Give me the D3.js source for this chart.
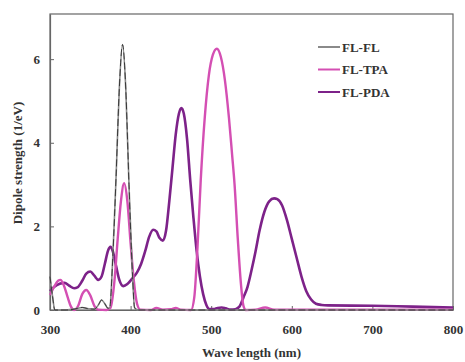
<!DOCTYPE html>
<html>
<head>
<meta charset="utf-8">
<script src="https://cdn.jsdelivr.net/npm/d3@7"></script>
<style>
  body { margin: 0; background: #fff; }
  text { font-family: "Liberation Serif", "Times New Roman", serif; font-weight: bold; fill: #333; }
</style>
</head>
<body>
<div id="chart"></div>
<script>
// Chart size
var width = 465;
var height = 362;
var margin = { top: 14, right: 12, bottom: 52, left: 50 };

// Data: wavelength (nm) and dipole strength (1/eV)
var flflWave = [300, 303, 306, 320, 330, 340, 348, 355, 360, 364, 368, 372, 374, 378, 382, 386, 390, 394, 398, 402, 405, 410, 800];
var flflValue = [0.8, 0.35, 0.0, 0.0, 0.02, 0.06, 0.03, 0.02, 0.12, 0.24, 0.15, 0.04, 0.05, 1.3, 3.2, 5.3, 6.35, 5.3, 3.0, 1.0, 0.05, 0.0, 0.0];

var fltpaWave = [300, 305, 310, 313, 317, 322, 326, 330, 335, 340, 345, 350, 355, 360, 370, 375, 380, 384, 388, 392, 396, 400, 404, 408, 412, 425, 432, 440, 450, 456, 462, 475, 479, 483, 487, 492, 497, 502, 507, 512, 517, 522, 526, 529, 533, 537, 540, 543, 555, 567, 578, 600, 800];
var fltpaValue = [0.36, 0.55, 0.7, 0.72, 0.6, 0.3, 0.08, 0.0, 0.1, 0.38, 0.48, 0.35, 0.1, 0.01, 0.0, 0.05, 0.7, 1.7, 2.6, 3.03, 2.6, 1.6, 0.7, 0.15, 0.01, 0.0, 0.05, 0.01, 0.02, 0.05, 0.01, 0.0, 0.3, 1.5, 3.1, 4.6, 5.6, 6.1, 6.25, 6.05, 5.5, 4.6, 3.7, 3.0, 1.7, 0.6, 0.1, 0.0, 0.01, 0.06, 0.01, 0.01, 0.01];

var flpdaWave = [300, 305, 312, 318, 324, 330, 334, 340, 345, 350, 355, 360, 364, 368, 372, 375, 378, 382, 386, 391, 396, 402, 408, 413, 418, 423, 428, 432, 436, 440, 444, 448, 452, 456, 460, 463, 466, 470, 474, 478, 482, 486, 490, 494, 498, 503, 508, 513, 518, 524, 530, 535, 540, 545, 550, 555, 560, 566, 572, 578, 582, 588, 594, 600, 606, 612, 618, 624, 630, 637, 645, 700, 750, 800];
var flpdaValue = [0.45, 0.55, 0.63, 0.65, 0.58, 0.52, 0.54, 0.7, 0.87, 0.92, 0.82, 0.72, 0.8, 1.1, 1.42, 1.51, 1.4, 1.05, 0.72, 0.57, 0.62, 0.75, 0.9, 1.1, 1.4, 1.75, 1.92, 1.88, 1.72, 1.66, 1.9, 2.6, 3.4, 4.2, 4.7, 4.83, 4.7, 4.1, 3.1, 2.2, 1.4, 0.8, 0.38, 0.12, 0.02, 0.02, 0.05, 0.06, 0.04, 0.01, 0.02, 0.08, 0.3, 0.55, 0.95, 1.4, 1.9, 2.35, 2.6, 2.67, 2.65, 2.5, 2.15, 1.7, 1.25, 0.8, 0.45, 0.25, 0.15, 0.12, 0.11, 0.1, 0.08, 0.06];

var seriesNames = ["FL-FL", "FL-TPA", "FL-PDA"];
var seriesColors = ["#8a8a8a", "#d44fb3", "#7d2289"];
var xTicks = [300, 400, 500, 600, 700, 800];
var yTicks = [0, 2, 4, 6];

var series = [
    { name: seriesNames[0], points: d3.zip(flflWave, flflValue) },
    { name: seriesNames[1], points: d3.zip(fltpaWave, fltpaValue) },
    { name: seriesNames[2], points: d3.zip(flpdaWave, flpdaValue) }
];

var svg = d3.select("#chart")
    .append("svg")
    .attr("width", width)
    .attr("height", height);

var xScale = d3.scaleLinear()
    .domain([300, 800])
    .range([margin.left, width - margin.right]);

var yScale = d3.scaleLinear()
    .domain([0, 7.08])
    .range([height - margin.bottom, margin.top]);

var line = d3.line()
    .x(d => xScale(d[0]))
    .y(d => yScale(d[1]))
    .curve(d3.curveMonotoneX);

// Frame around the plot
svg.append("rect")
    .attr("x", margin.left)
    .attr("y", margin.top)
    .attr("width", width - margin.left - margin.right)
    .attr("height", height - margin.top - margin.bottom)
    .attr("fill", "none")
    .attr("stroke", "#666")
    .attr("stroke-width", 1.2);

// Axes with inward ticks
var xAxis = svg.append("g")
    .attr("transform", "translate(0," + (height - margin.bottom) + ")")
    .call(d3.axisBottom(xScale).tickValues(xTicks).tickSizeInner(-4).tickSizeOuter(0).tickPadding(15));

var yAxis = svg.append("g")
    .attr("transform", "translate(" + margin.left + ",0)")
    .call(d3.axisLeft(yScale).tickValues(yTicks).tickSizeInner(-4).tickSizeOuter(0).tickPadding(10));

[xAxis, yAxis].forEach(function(g) {
    g.select(".domain").attr("stroke", "#666").attr("stroke-width", 1.2);
    g.selectAll(".tick line").attr("stroke", "#666");
    g.selectAll(".tick text").style("font-size", "13px").attr("fill", "#333");
});

// Curves
svg.append("path")
    .datum(series[2].points)
    .attr("d", line)
    .attr("fill", "none")
    .attr("stroke", seriesColors[2])
    .attr("stroke-width", 2.6);

svg.append("path")
    .datum(series[1].points)
    .attr("d", line)
    .attr("fill", "none")
    .attr("stroke", seriesColors[1])
    .attr("stroke-width", 2.4);

svg.append("path")
    .datum(series[0].points)
    .attr("d", line)
    .attr("fill", "none")
    .attr("stroke", seriesColors[0])
    .attr("stroke-width", 1.6);

svg.append("path")
    .datum(series[0].points)
    .attr("d", line)
    .attr("fill", "none")
    .attr("stroke", "#222")
    .attr("stroke-width", 0.8)
    .attr("stroke-dasharray", "7,3");

// Axis titles
svg.append("text")
    .attr("x", (margin.left + width - margin.right) / 2)
    .attr("y", 357)
    .style("text-anchor", "middle")
    .style("font-size", "13px")
    .text("Wave length (nm)");

svg.append("text")
    .attr("transform", "rotate(-90)")
    .attr("x", -163)
    .attr("y", 22)
    .style("text-anchor", "middle")
    .style("font-size", "13px")
    .text("Dipole strength (1/eV)");

// Legend
var legend = svg.append("g")
    .attr("transform", "translate(318,47)");

seriesNames.forEach(function(name, i) {
    legend.append("line")
        .attr("x1", 0)
        .attr("x2", 22)
        .attr("y1", i * 22.5)
        .attr("y2", i * 22.5)
        .attr("stroke", seriesColors[i])
        .attr("stroke-width", 2);
    legend.append("text")
        .attr("x", 24)
        .attr("y", i * 22.5)
        .attr("dy", ".35em")
        .style("font-size", "13px")
        .text(name);
});
</script>
</body>
</html>
